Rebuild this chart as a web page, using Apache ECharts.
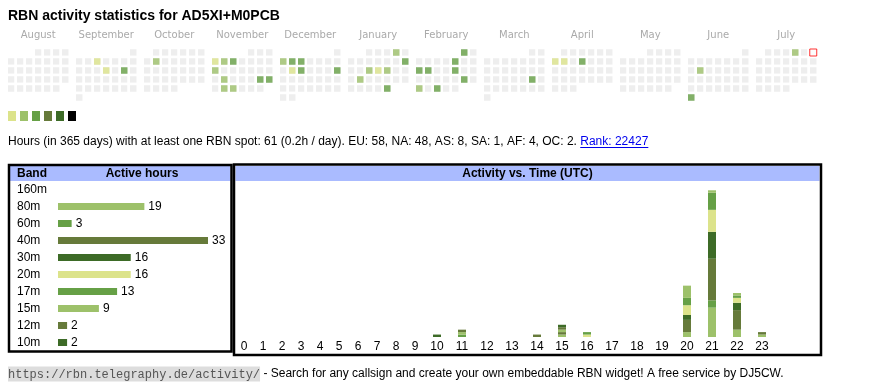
<!DOCTYPE html>
<html><head><meta charset="utf-8">
<script src="https://cdn.jsdelivr.net/npm/echarts@6/dist/echarts.min.js"></script>
<style>html,body{margin:0;padding:0;background:#fff}#c{width:870px;height:390px}</style>
</head><body><div id="c"></div>
<script>
// ---------- data ----------
const titleText = 'RBN activity statistics for AD5XI+M0PCB';
const monthNames = ['August','September','October','November','December','January','February','March','April','May','June','July'];
const monthRanges = ['2024-08','2024-09','2024-10','2024-11','2024-12','2025-01','2025-02','2025-03','2025-04','2025-05','2025-06','2025-07'];
// [date, activity level 1..6]
const activeDays = [
  ['2024-09-04',1],['2024-09-12',1],['2024-09-14',3],
  ['2024-10-08',2],
  ['2024-11-04',1],['2024-11-05',2],['2024-11-06',3],['2024-11-11',2],['2024-11-19',2],['2024-11-23',3],['2024-11-24',3],['2024-11-26',2],['2024-11-27',2],
  ['2024-12-02',2],['2024-12-03',3],['2024-12-04',3],['2024-12-10',1],['2024-12-11',3],['2024-12-15',3],
  ['2025-01-04',2],['2025-01-12',3],['2025-01-15',2],['2025-01-16',1],['2025-01-17',2],['2025-01-21',2],['2025-01-31',3],
  ['2025-02-01',3],['2025-02-07',3],['2025-02-10',3],['2025-02-11',3],['2025-02-14',3],['2025-02-22',3],['2025-02-24',2],['2025-02-26',3],
  ['2025-03-22',3],
  ['2025-04-07',1],['2025-04-08',1],['2025-04-10',3],
  ['2025-06-10',2],['2025-06-30',3],
  ['2025-07-04',2]
];
const todayDate = '2025-07-06';
const levels = [1,2,3,4,5,6];
const summaryText = 'Hours (in 365 days) with at least one RBN spot: 61 (0.2h / day). EU: 58, NA: 48, AS: 8, SA: 1, AF: 4, OC: 2. ';
const rankText = 'Rank: 22427';
const footerUrl = 'https://rbn.telegraphy.de/activity/';
const footerText = ' - Search for any callsign and create your own embeddable RBN widget! A free service by DJ5CW.';
const bandHeader = 'Band';
const hoursHeader = 'Active hours';
const activityHeader = 'Activity vs. Time (UTC)';
const bands = ['160m','80m','60m','40m','30m','20m','17m','15m','12m','10m'];
const bandHours = [0,19,3,33,16,16,13,9,2,2];
const hours = ['0','1','2','3','4','5','6','7','8','9','10','11','12','13','14','15','16','17','18','19','20','21','22','23'];
//                 0 1 2 3 4 5 6 7 8 9 10 11 12 13 14 15 16 17 18 19 20 21 22 23
const hourly160m = [0,0,0,0,0,0,0,0,0,0, 0, 0, 0, 0, 0, 0, 0, 0, 0, 0, 0, 0, 0, 0];
const hourly80m  = [0,0,0,0,0,0,0,0,0,0, 0, 0, 0, 0, 0, 1, 0, 0, 0, 0, 2,12, 3, 1];
const hourly60m  = [0,0,0,0,0,0,0,0,0,0, 0, 0, 0, 0, 0, 0, 0, 0, 0, 0, 0, 3, 0, 0];
const hourly40m  = [0,0,0,0,0,0,0,0,0,0, 0, 0, 0, 0, 1, 1, 0, 0, 0, 0, 5,17, 8, 1];
const hourly30m  = [0,0,0,0,0,0,0,0,0,0, 0, 0, 0, 0, 0, 0, 0, 0, 0, 0, 2,11, 3, 0];
const hourly20m  = [0,0,0,0,0,0,0,0,0,0, 0, 0, 0, 0, 0, 0, 1, 0, 0, 0, 4, 9, 2, 0];
const hourly17m  = [0,0,0,0,0,0,0,0,0,0, 0, 1, 0, 0, 0, 0, 1, 0, 0, 0, 3, 7, 1, 0];
const hourly15m  = [0,0,0,0,0,0,0,0,0,0, 0, 1, 0, 0, 0, 1, 0, 0, 0, 0, 5, 1, 1, 0];
const hourly12m  = [0,0,0,0,0,0,0,0,0,0, 0, 1, 0, 0, 0, 1, 0, 0, 0, 0, 0, 0, 0, 0];
const hourly10m  = [0,0,0,0,0,0,0,0,0,0, 1, 0, 0, 0, 0, 1, 0, 0, 0, 0, 0, 0, 0, 0];

// ---------- styles ----------
const levelColors = ['#dce38b','#9dc16a','#66a046','#667a3a','#3d6b27','#000000'];
const bandColor = {'160m':levelColors[0],'80m':levelColors[1],'60m':levelColors[2],'40m':levelColors[3],'30m':levelColors[4],
  '20m':levelColors[0],'17m':levelColors[2],'15m':levelColors[1],'12m':levelColors[3],'10m':levelColors[4]};
const hourlyByBand = {'160m':hourly160m,'80m':hourly80m,'60m':hourly60m,'40m':hourly40m,'30m':hourly30m,
  '20m':hourly20m,'17m':hourly17m,'15m':hourly15m,'12m':hourly12m,'10m':hourly10m};
const SANS = '"Liberation Sans", Arial, sans-serif';
const font12 = '12px ' + SANS;
const bold12 = 'bold 12px ' + SANS;

const calLeft0 = 6.75, calPitch = 68, calTop = 48, cell = 9;
const boxR = 821;

const chart = echarts.init(document.getElementById('c'), null, {renderer:'canvas'});

const calendars = monthRanges.map((r,i)=>({
  orient:'vertical', range:r, firstDay:1, left: calLeft0 + calPitch*i, top: calTop, cellSize:[cell,cell],
  splitLine:{show:false},
  itemStyle:{color:'#eeeeee', borderColor:'#ffffff', borderWidth:2.5},
  dayLabel:{show:false, firstDay:1}, monthLabel:{show:false}, yearLabel:{show:false}, silent:true
}));

const series = [];
monthRanges.forEach((r,i)=>{
  series.push({type:'scatter', coordinateSystem:'calendar', calendarIndex:i, symbol:'rect', symbolSize:6.5,
    z:3, silent:true, data: activeDays.filter(d=>d[0].startsWith(r))});
});
series.push({type:'scatter', coordinateSystem:'calendar', calendarIndex:monthRanges.length-1, symbol:'rect', symbolSize:7,
  z:4, silent:true, itemStyle:{color:'#ffffff', borderColor:'#ff0000', borderWidth:1}, data:[[todayDate,0]]});
series.push({type:'bar', xAxisIndex:0, yAxisIndex:0, barWidth:7, silent:true,
  data: bandHours.map((v,i)=>({value:v, itemStyle:{color:bandColor[bands[i]]}})),
  label:{show:true, position:'right', distance:4, fontSize:12, fontFamily:SANS, color:'#000',
    formatter: p => p.value > 0 ? String(p.value) : ''}});
bands.forEach(b=>{
  [[1,0,10],[2,10,24]].forEach(([g,s,e])=>{
    series.push({type:'bar', xAxisIndex:g, yAxisIndex:g, stack:'h'+g, barWidth:8, silent:true,
      itemStyle:{color:bandColor[b]}, data: hourlyByBand[b].slice(s,e)});
  });
});

// text measurement for link underline
const ctx = document.createElement('canvas').getContext('2d');
ctx.font = font12;
const wSummary = ctx.measureText(summaryText).width;
const wRank = ctx.measureText(rankText).width;

const graphics = [];
// boxes
graphics.push({type:'rect', z:0, silent:true, shape:{x:10, y:166, width:220.5, height:15}, style:{fill:'#aabbff'}});
graphics.push({type:'rect', z:0, silent:true, shape:{x:235.5, y:166, width:boxR-235.5-1.5, height:15}, style:{fill:'#aabbff'}});
graphics.push({type:'rect', z:10, silent:true, shape:{x:9, y:165, width:222.5, height:186.5}, style:{fill:null, stroke:'#000', lineWidth:2.5}});
graphics.push({type:'rect', z:10, silent:true, shape:{x:234, y:164.5, width:boxR-234, height:190.5}, style:{fill:null, stroke:'#000', lineWidth:2.5}});
// header texts
graphics.push({type:'text', z:11, silent:true, x:17, y:173.5, style:{text:bandHeader, font:bold12, fill:'#000', verticalAlign:'middle'}});
graphics.push({type:'text', z:11, silent:true, x:142, y:173.5, style:{text:hoursHeader, font:bold12, fill:'#000', align:'center', verticalAlign:'middle'}});
graphics.push({type:'text', z:11, silent:true, x:(234+boxR)/2, y:173.5, style:{text:activityHeader, font:bold12, fill:'#000', align:'center', verticalAlign:'middle'}});
// title
graphics.push({type:'text', z:11, silent:true, x:8, y:16.5, style:{text:titleText, font:'bold 14px '+SANS, fill:'#000', verticalAlign:'middle'}});
// month labels
monthNames.forEach((m,i)=>{
  graphics.push({type:'text', z:11, silent:true, x: calLeft0 + calPitch*i + 3.5*cell, y:35,
    style:{text:m, font:'10px "DejaVu Sans", Verdana, sans-serif', fill:'#aaaaaa', align:'center', verticalAlign:'middle'}});
});
// summary line
graphics.push({type:'text', z:11, silent:true, x:8, y:142, style:{text: summaryText + '{link|' + rankText + '}', font:font12, fill:'#000', verticalAlign:'middle',
  rich:{link:{fill:'#0000ee', font:font12}}}});
graphics.push({type:'line', z:11, silent:true, shape:{x1:8+wSummary, y1:147.5, x2:8+wSummary+wRank, y2:147.5}, style:{stroke:'#0000ee', lineWidth:1}});
// footer
graphics.push({type:'text', z:11, silent:true, x:8, y:374, style:{text:'{code|' + footerUrl + '}' + footerText, font:font12, fill:'#000', verticalAlign:'middle',
  rich:{code:{font:'12px "Liberation Mono", monospace', fill:'#555', backgroundColor:'#dddddd', padding:[2,0,1,0]}}}});

const option = {
  animation:false,
  backgroundColor:'#ffffff',
  calendar: calendars,
  visualMap: {type:'piecewise', dimension:1, seriesIndex: monthRanges.map((_,i)=>i),
    pieces: levels.map((l,i)=>({value:l, color:levelColors[i]})),
    orient:'horizontal', left:8, top:111, itemWidth:8, itemHeight:10, itemGap:4, showLabel:false,
    itemSymbol:'rect', padding:0, selectedMode:false, hoverLink:false},
  grid: [
    {left:58, width:150, top:181, height:170, outerBoundsMode:'none', containLabel:false},
    {left:234.5, width:190, top:180.5, height:156.5, outerBoundsMode:'none', containLabel:false},
    {left:424.5, width:350, top:180.5, height:156.5, outerBoundsMode:'none', containLabel:false}
  ],
  xAxis: [
    {gridIndex:0, type:'value', min:0, max:Math.max(...bandHours), show:false},
    {gridIndex:1, type:'category', data:hours.slice(0,10), axisLine:{show:false}, axisTick:{show:false}, splitLine:{show:false},
      axisLabel:{interval:0, margin:4, fontSize:12, fontFamily:SANS, color:'#000'}},
    {gridIndex:2, type:'category', data:hours.slice(10), axisLine:{show:false}, axisTick:{show:false}, splitLine:{show:false},
      axisLabel:{interval:0, margin:4, fontSize:12, fontFamily:SANS, color:'#000'}}
  ],
  yAxis: [
    {gridIndex:0, type:'category', data:bands, inverse:true, axisLine:{show:false}, axisTick:{show:false}, splitLine:{show:false},
      axisLabel:{align:'left', margin:41, fontSize:12, fontFamily:SANS, color:'#000'}},
    {gridIndex:1, type:'value', min:0, max:64, show:false},
    {gridIndex:2, type:'value', min:0, max:64, show:false}
  ],
  series: series,
  graphic: {elements: graphics}
};
chart.setOption(option);
</script></body></html>
